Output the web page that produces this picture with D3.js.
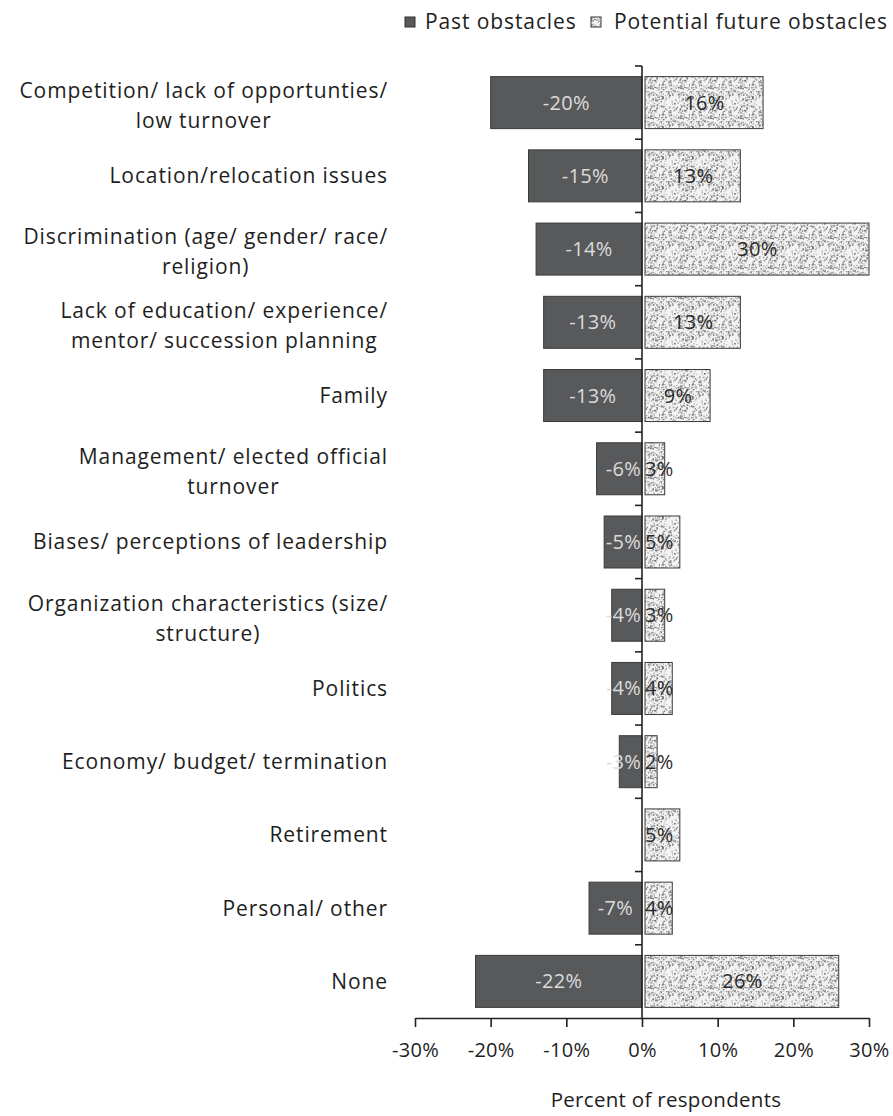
<!DOCTYPE html>
<html>
<head>
<meta charset="utf-8">
<script src="https://cdn.jsdelivr.net/npm/d3@7"></script>
<style>
  html, body { margin: 0; padding: 0; background: #ffffff; }
  svg text { font-family: "Open Sans", "Noto Sans", sans-serif; fill: #1e1e1e; }
</style>
</head>
<body>
<svg id="chart" width="893" height="1116"></svg>
<script>
// Obstacles to career advancement, share of respondents
const categories = [
  ["Competition/ lack of opportunties/", "low turnover"],
  ["Location/relocation issues"],
  ["Discrimination (age/ gender/ race/", "religion)"],
  ["Lack of education/ experience/", "mentor/ succession planning"],
  ["Family"],
  ["Management/ elected official", "turnover"],
  ["Biases/ perceptions of leadership"],
  ["Organization characteristics (size/", "structure)"],
  ["Politics"],
  ["Economy/ budget/ termination"],
  ["Retirement"],
  ["Personal/ other"],
  ["None"]
];
const pastObstacles   = [-20, -15, -14, -13, -13, -6, -5, -4, -4, -3, 0, -7, -22];
const futureObstacles = [16, 13, 30, 13, 9, 3, 5, 3, 4, 2, 5, 4, 26];
const xTicks = [-30, -20, -10, 0, 10, 20, 30];
const seriesNames = ["Past obstacles", "Potential future obstacles"];

const svg = d3.select("#chart");

const plotTop = 66, plotBottom = 1018;
const x = d3.scaleLinear().domain([-30, 30]).range([415, 869]);
const y = d3.scaleBand()
  .domain(d3.range(categories.length))
  .range([plotTop, plotBottom])
  .paddingInner(0.29)
  .paddingOuter(0.145);

const pastRows = pastObstacles.map((v, i) => ({ v, i }));
const futureRows = futureObstacles.map((v, i) => ({ v, i }));

// Speckled fill for the future-obstacle bars
const defs = svg.append("defs");
const pat = defs.append("pattern")
  .attr("id", "speckle")
  .attr("patternUnits", "userSpaceOnUse")
  .attr("width", 30).attr("height", 30);
pat.append("rect").attr("width", 30).attr("height", 30).attr("fill", "#f3f3f3");
let seed = 11;
function lcg() { seed = (seed * 1103515245 + 12345) % 2147483648; return seed / 2147483648; }
for (let i = 0; i < 190; i++) {
  const w = 0.7 + lcg() * 1.3, h = 0.7 + lcg() * 1.0;
  pat.append("rect")
    .attr("x", (lcg() * 30).toFixed(2))
    .attr("y", (lcg() * 30).toFixed(2))
    .attr("width", w.toFixed(2))
    .attr("height", h.toFixed(2))
    .attr("fill", lcg() < 0.45 ? "#707070" : "#a8a8a8");
}

const txt = sel => sel.attr("font-size", 21).style("letter-spacing", "0.9px");

// Legend
const legend = svg.append("g").attr("transform", "translate(0,22)");
legend.append("rect").attr("x", 405).attr("y", -5).attr("width", 10).attr("height", 10)
  .attr("fill", "#58595b").attr("stroke", "#333");
legend.append("text").attr("x", 425).attr("y", 0).attr("dy", "0.35em")
  .call(txt).text(seriesNames[0]);
legend.append("rect").attr("x", 591).attr("y", -5).attr("width", 10).attr("height", 10)
  .attr("fill", "url(#speckle)").attr("stroke", "#333");
legend.append("text").attr("x", 614).attr("y", 0).attr("dy", "0.35em")
  .call(txt).text(seriesNames[1]);

// Bars
const rows = svg.append("g");
rows.selectAll(".past").data(pastRows.filter(d => d.v !== 0)).join("rect")
  .attr("class", "past")
  .attr("x", d => x(d.v))
  .attr("y", d => y(d.i))
  .attr("width", d => x(0) - x(d.v))
  .attr("height", y.bandwidth())
  .attr("fill", "#58595b")
  .attr("stroke", "#3a3a3a")
  .attr("stroke-width", 1);

rows.selectAll(".future").data(futureRows).join("rect")
  .attr("class", "future")
  .attr("x", x(0) + 3)
  .attr("y", d => y(d.i))
  .attr("width", d => Math.max(0, x(d.v) - x(0) - 3))
  .attr("height", y.bandwidth())
  .attr("fill", "url(#speckle)")
  .attr("stroke", "#3a3a3a")
  .attr("stroke-width", 1);

// Value labels: centred in wide bars, held against the zero line in narrow ones
const labelSize = 20;
const narrow = v => Math.abs(x(v) - x(0)) < 46;
rows.selectAll(".pastLabel").data(pastRows.filter(d => d.v !== 0)).join("text")
  .attr("class", "pastLabel")
  .attr("x", d => narrow(d.v) ? x(0) - 1 : (x(d.v) + x(0)) / 2)
  .attr("y", d => y(d.i) + y.bandwidth() / 2)
  .attr("dy", "0.35em")
  .attr("text-anchor", d => narrow(d.v) ? "end" : "middle")
  .attr("font-size", labelSize)
  .style("letter-spacing", "0.3px")
  .style("fill", "#dcdcdc")
  .text(d => d.v + "%");

rows.selectAll(".futureLabel").data(futureRows).join("text")
  .attr("class", "futureLabel")
  .attr("x", d => narrow(d.v) ? x(0) + 3 : (x(d.v) + x(0)) / 2 + 2)
  .attr("y", d => y(d.i) + y.bandwidth() / 2)
  .attr("dy", "0.35em")
  .attr("text-anchor", d => narrow(d.v) ? "start" : "middle")
  .attr("font-size", labelSize)
  .style("letter-spacing", "0.3px")
  .style("fill", "#2a2a2a")
  .text(d => d.v + "%");

// Zero line with ticks at band boundaries
const boundaries = d3.range(categories.length).map(i => i === 0 ? plotTop : y(i) - y.step() * y.paddingInner() / 2);
svg.append("line")
  .attr("x1", x(0)).attr("x2", x(0))
  .attr("y1", plotTop).attr("y2", plotBottom)
  .attr("stroke", "#222").attr("stroke-width", 1.6);
svg.selectAll(".bandTick").data(boundaries).join("line")
  .attr("class", "bandTick")
  .attr("x1", x(0) - 7).attr("x2", x(0))
  .attr("y1", d => d).attr("y2", d => d)
  .attr("stroke", "#222").attr("stroke-width", 1.6);

// Category labels: right aligned block, lines centred within it
const labelRight = 388;
const catG = svg.append("g");
categories.forEach((lines, i) => {
  const cy = y(i) + y.bandwidth() / 2 + (lines.length > 1 ? 3 : 0);
  const lh = 30;
  const g = catG.append("g");
  const texts = lines.map((t, k) => g.append("text")
    .attr("y", cy + (k - (lines.length - 1) / 2) * lh)
    .attr("dy", "0.35em")
    .call(txt)
    .attr("text-anchor", "middle")
    .text(t));
  const maxW = d3.max(texts, t => t.node().getComputedTextLength());
  texts.forEach(t => t.attr("x", labelRight - maxW / 2));
});

// Bottom axis
const xAxis = d3.axisBottom(x)
  .tickValues(xTicks)
  .tickSize(9)
  .tickSizeOuter(0)
  .tickPadding(16)
  .tickFormat(d => d + "%");
const axG = svg.append("g").attr("transform", `translate(0,${plotBottom})`).call(xAxis);
axG.select(".domain").attr("stroke", "#222").attr("stroke-width", 1.6);
axG.selectAll(".tick line").attr("stroke", "#222").attr("stroke-width", 1.6);
axG.selectAll(".tick text").attr("font-size", 20).style("fill", "#1e1e1e")
  .attr("font-family", "\"Open Sans\", sans-serif")
  .style("letter-spacing", "0.3px");

svg.append("text")
  .attr("x", x(0) + 24).attr("y", 1100)
  .attr("dy", "0.35em")
  .attr("text-anchor", "middle")
  .attr("font-size", 20.5)
  .style("letter-spacing", "0.3px")
  .text("Percent of respondents");
</script>
</body>
</html>
